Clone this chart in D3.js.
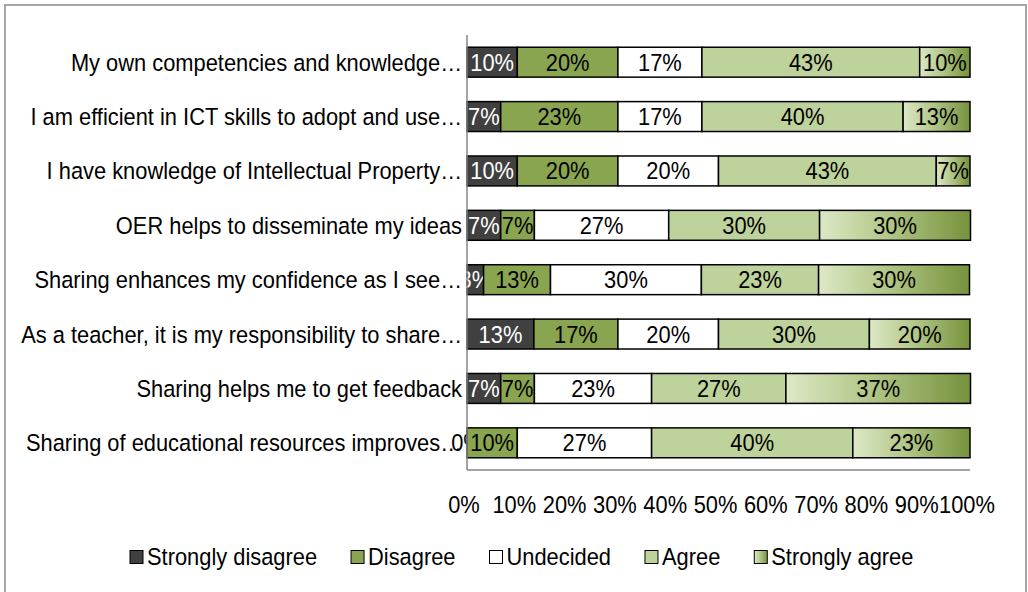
<!DOCTYPE html>
<html>
<head>
<meta charset="utf-8">
<script src="https://cdn.jsdelivr.net/npm/d3@7"></script>
<style>
  body { margin: 0; background: #fff; }
  text { font-family: "Liberation Sans", Arial, sans-serif; font-size: 23.5px; }
</style>
</head>
<body>
<script>
// survey statements (top to bottom, as truncated on the chart)
var categories = [
  "My own competencies and knowledge…",
  "I am efficient in ICT skills to adopt and use…",
  "I have knowledge of Intellectual Property…",
  "OER helps to disseminate my ideas",
  "Sharing enhances my confidence as I see…",
  "As a teacher, it is my responsibility to share…",
  "Sharing helps me to get feedback",
  "Sharing of educational resources improves…"
];

var seriesNames = ["Strongly disagree", "Disagree", "Undecided", "Agree", "Strongly agree"];

// percent of respondents per answer
var stronglyDisagree = [10.0, 6.7, 10.0, 6.7, 3.3, 13.3, 6.7, 0.0];
var disagree         = [20.0, 23.3, 20.0, 6.7, 13.3, 16.7, 6.7, 10.0];
var undecided        = [16.7, 16.7, 20.0, 26.7, 30.0, 20.0, 23.3, 26.7];
var agree            = [43.3, 40.0, 43.3, 30.0, 23.3, 30.0, 26.7, 40.0];
var stronglyAgree    = [10.0, 13.3, 6.7, 30.0, 30.0, 20.0, 36.7, 23.3];

var tickValues = [0, 0.1, 0.2, 0.3, 0.4, 0.5, 0.6, 0.7, 0.8, 0.9, 1];

var width = 1028,
    height = 592;

// the original uses a narrow font, so squeeze text a bit
var squeeze = 0.93;
function place(sel, fx, fy) {
  sel.attr("transform", function(d, i) {
    return "translate(" + fx(d, i) + "," + fy(d, i) + ") scale(" + squeeze + ",1)";
  });
}

var svg = d3.select("body").append("svg")
    .attr("width", width)
    .attr("height", height);

// gradient for "Strongly agree"
var grad = svg.append("defs").append("linearGradient")
    .attr("id", "sagree")
    .attr("x1", "0%").attr("x2", "100%").attr("y1", "0%").attr("y2", "0%");
grad.append("stop").attr("offset", "0%").attr("stop-color", "#dde8c6");
grad.append("stop").attr("offset", "45%").attr("stop-color", "#b2c787");
grad.append("stop").attr("offset", "100%").attr("stop-color", "#76923c");

var colors = ["#404040", "#8aa54f", "#ffffff", "#bed29b", "url(#sagree)"];

// outer chart frame
svg.append("rect")
    .attr("x", 5).attr("y", 5)
    .attr("width", 1021).attr("height", 600)
    .attr("fill", "none")
    .attr("stroke", "#a6a6a6")
    .attr("stroke-width", 2);

var x = d3.scaleLinear().domain([0, 1]).range([467, 970]);

var y = d3.scaleBand()
    .domain(categories)
    .range([35, 470])
    .paddingInner(0.45)
    .paddingOuter(0.225);

// stack the series per category
var rows = categories.map(function(c, i) {
  return {
    cat: c,
    "Strongly disagree": stronglyDisagree[i] / 100,
    "Disagree": disagree[i] / 100,
    "Undecided": undecided[i] / 100,
    "Agree": agree[i] / 100,
    "Strongly agree": stronglyAgree[i] / 100
  };
});

var stack = d3.stack().keys(seriesNames)(rows);

var layer = svg.selectAll("g.layer")
    .data(stack)
  .enter().append("g")
    .attr("class", "layer");

layer.selectAll("rect")
    .data(function(d) { return d; })
  .enter().append("rect")
    .attr("x", function(d) { return x(d[0]); })
    .attr("y", function(d) { return y(d.data.cat); })
    .attr("width", function(d) { return x(d[1]) - x(d[0]); })
    .attr("height", y.bandwidth())
    .attr("fill", function() { return colors[seriesNames.indexOf(d3.select(this.parentNode).datum().key)]; })
    .attr("stroke", "#000")
    .attr("stroke-width", 1.5);

var fmt = d3.format(".0%");

layer.each(function(s, si) {
  d3.select(this).selectAll("text")
      .data(s)
    .enter().append("text")
      .call(place,
        function(d) { return (x(d[0]) + x(d[1])) / 2; },
        function(d) { return y(d.data.cat) + y.bandwidth() / 2; })
      .attr("dy", "0.36em")
      .attr("text-anchor", "middle")
      .attr("fill", function(d) { return (si === 0 && d[1] - d[0] > 0) ? "#fff" : "#000"; })
      .text(function(d) { return fmt(d[1] - d[0]); });
});

// axis lines
svg.append("line")
    .attr("x1", x(0)).attr("x2", x(0))
    .attr("y1", 35).attr("y2", 470)
    .attr("stroke", "#868686").attr("stroke-width", 1.5);
svg.append("line")
    .attr("x1", x(0)).attr("x2", x(1))
    .attr("y1", 470).attr("y2", 470)
    .attr("stroke", "#868686").attr("stroke-width", 1.5);

// category labels
svg.selectAll("text.cat")
    .data(categories)
  .enter().append("text")
    .attr("class", "cat")
    .call(place, function() { return 462; }, function(d) { return y(d) + y.bandwidth() / 2; })
    .attr("dy", "0.36em")
    .attr("text-anchor", "end")
    .text(function(d) { return d; });

// x tick labels
svg.selectAll("text.tick")
    .data(tickValues)
  .enter().append("text")
    .attr("class", "tick")
    .call(place, function(d) { return x(d) - 3; }, function() { return 505; })
    .attr("dy", "0.36em")
    .attr("text-anchor", "middle")
    .text(function(d) { return fmt(d); });

// legend
var legend = svg.append("g").attr("transform", "translate(130,557)");
var lx = 0;
seriesNames.forEach(function(name, i) {
  var g = legend.append("g").attr("transform", "translate(" + lx + ",0)");
  g.append("rect")
      .attr("x", 0).attr("y", -6.5)
      .attr("width", 13).attr("height", 13)
      .attr("fill", colors[i])
      .attr("stroke", "#000")
      .attr("stroke-width", 1);
  var t = g.append("text")
      .attr("transform", "translate(17,0) scale(" + squeeze + ",1)")
      .attr("dy", "0.36em")
      .text(name);
  lx += 17 + t.node().getComputedTextLength() * squeeze + 34;
});
</script>
</body>
</html>
